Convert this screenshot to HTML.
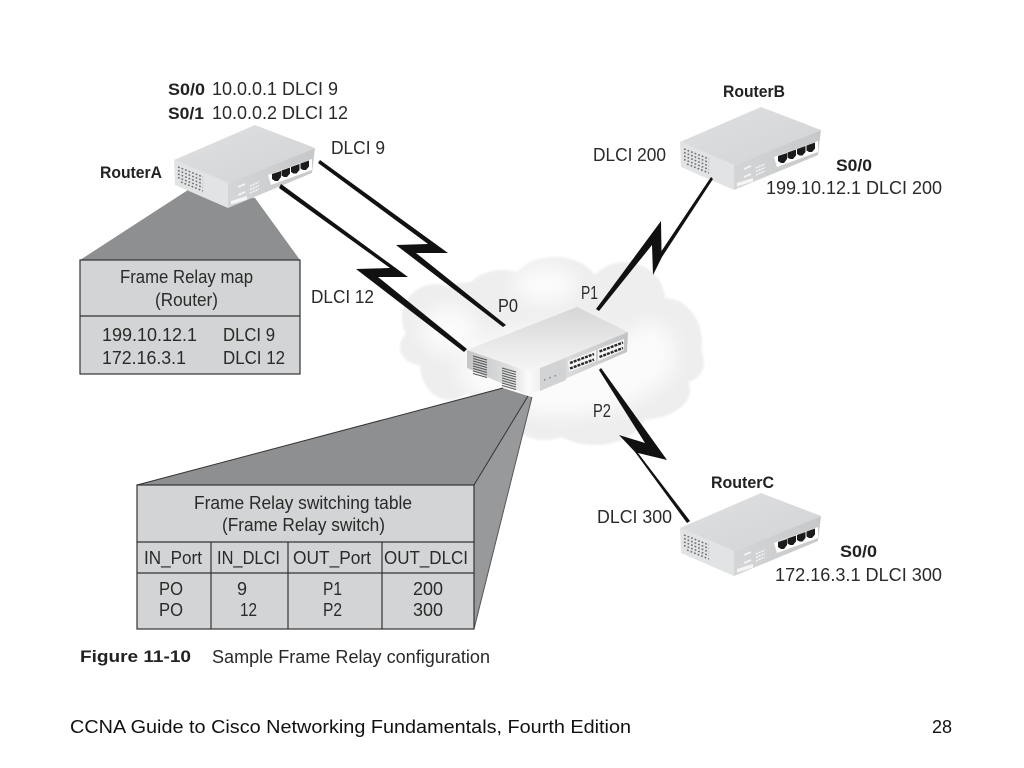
<!DOCTYPE html>
<html><head><meta charset="utf-8"><style>
html,body{margin:0;padding:0;background:#fff}
svg{display:block}
text{font-family:"Liberation Sans",sans-serif;font-size:18px;fill:#2a2a2a}
.b{font-weight:bold;fill:#222;font-size:17px}
.f{font-size:18px;fill:#111}
</style></head><body>
<svg width="1024" height="768" viewBox="0 0 1024 768" xmlns="http://www.w3.org/2000/svg">
<defs>
<linearGradient id="rt" x1="0" y1="0" x2="1" y2="1"><stop offset="0" stop-color="#dfe0e1"/><stop offset="1" stop-color="#d2d3d5"/></linearGradient>
<linearGradient id="rf" x1="0" y1="0" x2="1" y2="0"><stop offset="0" stop-color="#d4d5d7"/><stop offset="1" stop-color="#c6c8ca"/></linearGradient>
<linearGradient id="st" x1="0.5" y1="0" x2="0.5" y2="1"><stop offset="0" stop-color="#d6d6d7"/><stop offset="1" stop-color="#f6f6f6"/></linearGradient>
<linearGradient id="sl" x1="0" y1="0" x2="1" y2="0"><stop offset="0" stop-color="#c4c5c7"/><stop offset="0.7" stop-color="#dedfe0"/><stop offset="1" stop-color="#fdfdfd"/></linearGradient>
<linearGradient id="sf" x1="0" y1="0" x2="1" y2="0"><stop offset="0" stop-color="#fbfbfb"/><stop offset="0.3" stop-color="#dedfe0"/><stop offset="1" stop-color="#c0c2c4"/></linearGradient>
<filter id="bl" x="-20%" y="-20%" width="140%" height="140%"><feGaussianBlur stdDeviation="9"/></filter>
<filter id="sb" x="-5%" y="-5%" width="110%" height="110%"><feGaussianBlur stdDeviation="1"/></filter>
<g id="router">
<polygon points="174,160 255,125 315,148 228,183" fill="url(#rt)"/>
<polygon points="174,160 228,183 228,208 175,185" fill="#e2e3e4"/>
<polygon points="228,183 315,148 312,173 228,208" fill="url(#rf)"/>
<g stroke="#6f7173" stroke-width="1.5" stroke-dasharray="1.8 2" fill="none">
<line x1="178" y1="167" x2="203" y2="177"/><line x1="178" y1="170.500" x2="203" y2="180.500"/><line x1="178" y1="174" x2="203" y2="184"/><line x1="178" y1="177.500" x2="203" y2="187.500"/><line x1="181" y1="182" x2="203" y2="191"/>
</g>
<polygon points="268,175 312,159 312,170 271,185" fill="#fff"/>
<g fill="#1b1b1b">
<polygon points="272,174 281,171 281,177 278,181 275,181 272,179"/>
<polygon points="281.500,170.500 290,167.500 290,173.500 287,177 284,177 281.500,175.500"/>
<polygon points="291,167 299.500,164 299.500,170 296.500,173.500 293.500,173.500 291,172"/>
<polygon points="300.500,163.500 309,160.500 309,166.500 306,170 303,170 300.500,168.500"/>
</g>
<polygon points="231,201 247,196 247,199.500 231,204.500" fill="#f6f6f6"/>
<g stroke="#f6f6f6" stroke-width="1.5">
<line x1="238" y1="187" x2="245" y2="184"/><line x1="238" y1="195" x2="245" y2="192"/>
<line x1="250" y1="186" x2="259" y2="182" stroke-dasharray="2 1"/><line x1="250" y1="189.500" x2="259" y2="185.500" stroke-dasharray="2 1"/><line x1="250" y1="193" x2="259" y2="189" stroke-dasharray="2 1"/>
</g>
</g>
</defs>

<!-- cloud -->
<g fill="#eeeeee" filter="url(#sb)">
<ellipse cx="435" cy="318" rx="33" ry="34"/><ellipse cx="420" cy="347" rx="20" ry="18"/><ellipse cx="470" cy="322" rx="50" ry="40"/>
<ellipse cx="503" cy="300" rx="40" ry="30"/><ellipse cx="555" cy="290" rx="45" ry="33"/><ellipse cx="625" cy="300" rx="40" ry="38"/>
<ellipse cx="665" cy="343" rx="37" ry="45"/><ellipse cx="685" cy="362" rx="19" ry="20"/><ellipse cx="640" cy="390" rx="50" ry="30"/>
<ellipse cx="595" cy="410" rx="52" ry="35"/><ellipse cx="545" cy="405" rx="40" ry="35"/><ellipse cx="450" cy="365" rx="30" ry="35"/>
<ellipse cx="500" cy="360" rx="60" ry="40"/><ellipse cx="570" cy="350" rx="80" ry="60"/>
</g>
<g fill="#fbfbfb" filter="url(#bl)">
<ellipse cx="560" cy="370" rx="100" ry="45"/><ellipse cx="650" cy="355" rx="25" ry="32"/><ellipse cx="450" cy="330" rx="28" ry="24"/><ellipse cx="545" cy="285" rx="32" ry="18"/>
</g>

<!-- wedges -->
<polygon points="80,260 188,190 255,198 300,260" fill="#8d8f91"/>
<polygon points="137,485 503,388 528,396 474,485" fill="#8d8f91"/>
<polygon points="474,485 528,396 532,397 474,629" fill="#98999b"/>
<line x1="137" y1="485" x2="503" y2="388" stroke="#333" stroke-width="1"/>
<line x1="474" y1="485" x2="528" y2="396" stroke="#333" stroke-width="1"/>
<line x1="474" y1="629" x2="532" y2="397" stroke="#555" stroke-width="1"/>

<!-- map box -->
<rect x="80" y="260" width="220" height="114" fill="#d2d4d5" stroke="#333" stroke-width="1.2"/>
<line x1="80" y1="316" x2="300" y2="316" stroke="#333" stroke-width="1.2"/>

<!-- switching table -->
<rect x="137" y="485" width="337" height="144" fill="#d2d4d5" stroke="#333" stroke-width="1.2"/>
<g stroke="#333" stroke-width="1.2">
<line x1="137" y1="542" x2="474" y2="542"/><line x1="137" y1="573" x2="474" y2="573"/>
<line x1="211" y1="542" x2="211" y2="629"/><line x1="288" y1="542" x2="288" y2="629"/><line x1="382" y1="542" x2="382" y2="629"/>
</g>

<!-- routers -->
<use href="#router"/>
<use href="#router" transform="translate(506,-18)"/>
<use href="#router" transform="translate(506,368)"/>

<!-- switch -->
<polygon points="467,350 577,307 628,332 530,372" fill="url(#st)"/>
<polygon points="467,350 530,372 528,395 467,368" fill="url(#sl)"/>
<polygon points="530,372 628,332 627,352 528,395" fill="url(#sf)"/>
<polygon points="540,368 566,358 566,380 540,391" fill="#d2d3d5"/>
<polygon points="568,361 596,350 596,361 569,372" fill="#f6f6f6"/>
<polygon points="598,349 624,339 624,350 598,361" fill="#f6f6f6"/>
<g stroke="#2a2a2a" stroke-width="2.400" stroke-dasharray="3 1">
<line x1="570" y1="363" x2="594" y2="354"/><line x1="570" y1="368.500" x2="594" y2="359.500"/>
<line x1="599.500" y1="351.500" x2="623" y2="342.500"/><line x1="599.500" y1="357" x2="623" y2="348"/>
</g>
<g stroke="#8c8e90" stroke-width="1.6" stroke-dasharray="1.6 4"><line x1="544" y1="380" x2="560" y2="374"/></g>
<g stroke="#555" stroke-width="1">
<line x1="473" y1="356" x2="487" y2="360"/><line x1="473" y1="358.500" x2="487" y2="362.500"/><line x1="473" y1="361" x2="487" y2="365"/><line x1="473" y1="363.500" x2="487" y2="367.500"/><line x1="473" y1="366" x2="487" y2="370"/><line x1="473" y1="368.500" x2="487" y2="372.500"/><line x1="473" y1="371" x2="487" y2="375"/><line x1="473" y1="373.500" x2="487" y2="377.500"/>
<line x1="502" y1="368" x2="516" y2="372"/><line x1="502" y1="370.500" x2="516" y2="374.500"/><line x1="502" y1="373" x2="516" y2="377"/><line x1="502" y1="375.500" x2="516" y2="379.500"/><line x1="502" y1="378" x2="516" y2="382"/><line x1="502" y1="380.500" x2="516" y2="384.500"/><line x1="502" y1="383" x2="516" y2="387"/><line x1="502" y1="385.500" x2="516" y2="389.500"/>
</g>

<!-- lightning -->
<g fill="#111">
<polygon points="320,160 448,253 416,253 506,325 503,327 396,245 428,244 318,163"/>
<polygon points="281,184 408,277 378,277 467,349 464,352 356,269 390,268 279,188"/>
<polygon points="596,309 661,221 661.500,251 711,177 713,179 662,257 653,275 652,245 599,311"/>
<polygon points="601,368 667,460 638,453 690,521 687,523 635,452 619,435 645,443 599,370"/>
</g>

<!-- labels -->
<text class="b" x="168" y="95" textLength="37" lengthAdjust="spacingAndGlyphs">S0/0</text>
<text x="212" y="95" textLength="126" lengthAdjust="spacingAndGlyphs">10.0.0.1 DLCI 9</text>
<text class="b" x="168" y="119" textLength="36" lengthAdjust="spacingAndGlyphs">S0/1</text>
<text x="212" y="119" textLength="136" lengthAdjust="spacingAndGlyphs">10.0.0.2 DLCI 12</text>
<text class="b" x="100" y="178" textLength="62" lengthAdjust="spacingAndGlyphs">RouterA</text>
<text x="331" y="154" textLength="54" lengthAdjust="spacingAndGlyphs">DLCI 9</text>
<text x="311" y="303" textLength="63" lengthAdjust="spacingAndGlyphs">DLCI 12</text>
<text x="120" y="283" textLength="133" lengthAdjust="spacingAndGlyphs">Frame Relay map</text>
<text x="155" y="306" textLength="63" lengthAdjust="spacingAndGlyphs">(Router)</text>
<text x="102" y="341" textLength="95" lengthAdjust="spacingAndGlyphs">199.10.12.1</text>
<text x="223" y="341" textLength="52" lengthAdjust="spacingAndGlyphs">DLCI 9</text>
<text x="102" y="364" textLength="84" lengthAdjust="spacingAndGlyphs">172.16.3.1</text>
<text x="223" y="364" textLength="62" lengthAdjust="spacingAndGlyphs">DLCI 12</text>
<text x="498" y="312" textLength="20" lengthAdjust="spacingAndGlyphs">P0</text>
<text x="581" y="299" textLength="17" lengthAdjust="spacingAndGlyphs">P1</text>
<text x="593" y="417" textLength="18" lengthAdjust="spacingAndGlyphs">P2</text>

<text x="194" y="509" textLength="218" lengthAdjust="spacingAndGlyphs">Frame Relay switching table</text>
<text x="222" y="531" textLength="163" lengthAdjust="spacingAndGlyphs">(Frame Relay switch)</text>
<text x="144" y="564" textLength="58" lengthAdjust="spacingAndGlyphs">IN_Port</text>
<text x="217" y="564" textLength="63" lengthAdjust="spacingAndGlyphs">IN_DLCI</text>
<text x="293" y="564" textLength="78" lengthAdjust="spacingAndGlyphs">OUT_Port</text>
<text x="384" y="564" textLength="84" lengthAdjust="spacingAndGlyphs">OUT_DLCI</text>
<text x="159" y="595" textLength="24" lengthAdjust="spacingAndGlyphs">PO</text>
<text x="159" y="616" textLength="24" lengthAdjust="spacingAndGlyphs">PO</text>
<text x="237" y="595">9</text>
<text x="240" y="616" textLength="17" lengthAdjust="spacingAndGlyphs">12</text>
<text x="323" y="595" textLength="19" lengthAdjust="spacingAndGlyphs">P1</text>
<text x="323" y="616" textLength="19" lengthAdjust="spacingAndGlyphs">P2</text>
<text x="413" y="595" textLength="30" lengthAdjust="spacingAndGlyphs">200</text>
<text x="413" y="616" textLength="30" lengthAdjust="spacingAndGlyphs">300</text>

<text class="b" x="80" y="662" textLength="111" lengthAdjust="spacingAndGlyphs">Figure 11-10</text>
<text x="212" y="663" textLength="278" lengthAdjust="spacingAndGlyphs">Sample Frame Relay configuration</text>

<text class="b" x="723" y="97" textLength="62" lengthAdjust="spacingAndGlyphs">RouterB</text>
<text x="593" y="161" textLength="73" lengthAdjust="spacingAndGlyphs">DLCI 200</text>
<text class="b" x="836" y="171" textLength="36" lengthAdjust="spacingAndGlyphs">S0/0</text>
<text x="766" y="194" textLength="176" lengthAdjust="spacingAndGlyphs">199.10.12.1 DLCI 200</text>

<text class="b" x="711" y="488" textLength="63" lengthAdjust="spacingAndGlyphs">RouterC</text>
<text x="597" y="523" textLength="75" lengthAdjust="spacingAndGlyphs">DLCI 300</text>
<text class="b" x="840" y="557" textLength="37" lengthAdjust="spacingAndGlyphs">S0/0</text>
<text x="775" y="581" textLength="167" lengthAdjust="spacingAndGlyphs">172.16.3.1 DLCI 300</text>

<text class="f" x="70" y="733" textLength="561" lengthAdjust="spacingAndGlyphs">CCNA Guide to Cisco Networking Fundamentals, Fourth Edition</text>
<text class="f" x="932" y="733">28</text>
</svg>
</body></html>
